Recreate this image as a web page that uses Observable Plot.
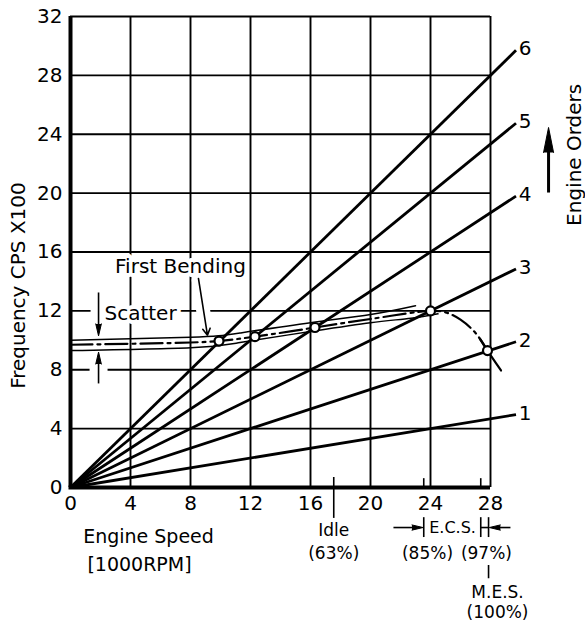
<!DOCTYPE html>
<html><head><meta charset="utf-8">
<script src="https://cdn.jsdelivr.net/npm/d3@7"></script>
<script src="https://cdn.jsdelivr.net/npm/@observablehq/plot@0.6"></script>
<style>body{margin:0;background:#fff;}</style>
</head><body><div id="chart"></div>
<script>
// ---- data ----
const speedTicks = [0, 4, 8, 12, 16, 20, 24, 28];          // 1000 RPM
const freqTicks = [0, 4, 8, 12, 16, 20, 24, 28, 32];       // CPS x100
const gridSpeeds = [4, 8, 12, 16, 20, 24, 28];
const gridFreqs = [4, 8, 12, 16, 20, 24, 28, 32];
const engineOrders = [1, 2, 3, 4, 5, 6];
const orderLineEndSpeed = 29.7;

const bandUpperSpeed = [0, 8, 11.3, 16, 20, 23];
const bandUpperFreq  = [10.0, 10.2, 10.5, 11.2, 11.75, 12.35];
const bandLowerSpeed = [0, 8, 11.3, 16, 20, 22.7, 24.5];
const bandLowerFreq  = [9.3, 9.5, 9.85, 10.6, 11.2, 11.5, 11.8];
const bendingSpeed = [0, 8, 9.9, 12.3, 16.3, 20, 24, 25, 26, 27, 27.8];
const bendingFreq  = [9.7, 9.85, 9.95, 10.25, 10.87, 11.45, 12.0, 11.9, 11.4, 10.5, 9.3];
const tailSpeed = [27.3, 27.8, 28.7];
const tailFreq  = [10.1, 9.3, 7.95];
const crossSpeed = [9.9, 12.3, 16.3, 24.0, 27.8];
const crossFreq  = [9.95, 10.25, 10.87, 12.0, 9.3];

const idleSpeed = 17.55, ecsLowSpeed = 23.55, ecsHighSpeed = 27.35, mesSpeed = 27.87;
const bottomLabels = ["Idle", "(63%)", "E.C.S.", "(85%)", "(97%)", "M.E.S.", "(100%)"];

// ---- build tables ----
const pts = (s, f) => s.map((x, i) => ({speed: x, freq: f[i]}));
const bandUpper = pts(bandUpperSpeed, bandUpperFreq);
const bandLower = pts(bandLowerSpeed, bandLowerFreq);
const bending = pts(bendingSpeed, bendingFreq);
const tail = pts(tailSpeed, tailFreq);
const crossings = pts(crossSpeed, crossFreq);
const orderFreq = o => o * orderLineEndSpeed / 6;
const one = [0];
const F = "DejaVu Sans";

const spike = (x, y, rot, len, r) => Plot.vector(one, {x: () => x, y: () => y, rotate: rot, length: len, r, anchor: "end", shape: "spike", fill: "black", fillOpacity: 1, stroke: "black", strokeWidth: 1});

const chart = Plot.plot({
  width: 585, height: 625,
  marginLeft: 70, marginRight: 95, marginTop: 16, marginBottom: 138,
  x: {domain: [0, 28]},
  y: {domain: [0, 32]},
  style: {fontFamily: F, fontSize: "20px", color: "black", background: "white"},
  marks: [
    Plot.ruleX(gridSpeeds, {y1: 0, y2: 32, stroke: "black", strokeWidth: 1.9}),
    Plot.ruleY(gridFreqs, {x1: 0, x2: 28, stroke: "black", strokeWidth: 1.9}),
    // white halos
    Plot.link(one, {x1: 1.87, x2: 1.87, y1: 13.3, y2: 10.5, stroke: "white", strokeWidth: 16}),
    Plot.link(one, {x1: 1.87, x2: 1.87, y1: 7.0, y2: 9.0, stroke: "white", strokeWidth: 18}),
    Plot.link(one, {x1: 8.53, x2: 9.05, y1: 14.2, y2: 10.6, stroke: "white", strokeWidth: 14}),
    Plot.axisX({ticks: speedTicks, tickSize: 0, tickPadding: 8, fontSize: 20, label: null}),
    Plot.axisY({ticks: freqTicks, tickSize: 0, tickPadding: 8, fontSize: 20, label: null}),
    // engine order lines
    Plot.link(engineOrders, {x1: 0, y1: 0, x2: orderLineEndSpeed, y2: orderFreq, stroke: "black", strokeWidth: 2.8}),
    Plot.text(engineOrders, {x: 30.3, y: d => orderFreq(d) + 0.1, text: d => String(d), fontSize: 20}),
    // scatter band
    Plot.line(bandUpper, {x: "speed", y: "freq", curve: "natural", stroke: "black", strokeWidth: 1.5}),
    Plot.line(bandLower, {x: "speed", y: "freq", curve: "natural", stroke: "black", strokeWidth: 1.5}),
    Plot.line(bending, {x: "speed", y: "freq", curve: "catmull-rom", stroke: "black", strokeWidth: 2.2, strokeDasharray: "22,5,3,5"}),
    Plot.line(tail, {x: "speed", y: "freq", curve: "natural", stroke: "black", strokeWidth: 2.2}),
    Plot.dot(crossings, {x: "speed", y: "freq", r: 4.5, fill: "white", stroke: "black", strokeWidth: 2.2}),
    // frame
    Plot.ruleX([0], {y1: 0, y2: 32, stroke: "black", strokeWidth: 4}),
    Plot.ruleY([0], {x1: -0.1, x2: 28, stroke: "black", strokeWidth: 4}),
    // annotations inside
    Plot.text(["First Bending"], {x: 7.33, y: 15.0, text: d => d, fontSize: 20, stroke: "white", strokeWidth: 8, fill: "black"}),
    Plot.text(["Scatter"], {x: 4.67, y: 11.82, text: d => d, fontSize: 20, stroke: "white", strokeWidth: 8, fill: "black"}),
    Plot.arrow(one, {x1: 8.53, y1: 14.2, x2: 9.13, y2: 10.35, headLength: 7, stroke: "black", strokeWidth: 1.6}),
    Plot.link(one, {x1: 1.87, x2: 1.87, y1: 13.25, y2: 11.0, stroke: "black", strokeWidth: 1.6}),
    spike(1.87, 10.3, 180, 12, 2.8),
    Plot.link(one, {x1: 1.87, x2: 1.87, y1: 7.07, y2: 8.5, stroke: "black", strokeWidth: 1.6}),
    spike(1.87, 9.2, 0, 12, 2.8),
    // Engine Orders
    Plot.text(["Engine Orders"], {x: 33.6, y: 22.6, text: d => d, rotate: -90, fontSize: 20}),
    Plot.link(one, {x1: 31.87, x2: 31.87, y1: 20.04, y2: 23.0, stroke: "black", strokeWidth: 3}),
    spike(31.87, 24.46, 0, 25, 5),
    // Frequency label
    Plot.text(["Frequency CPS X100"], {x: -3.47, y: 13.72, text: d => d, rotate: -90, fontSize: 20}),
    // bottom annotations
    Plot.text(["Engine Speed"], {x: 5.2, y: -3.33, text: d => d, fontSize: 19}),
    Plot.text(["[1000RPM]"], {x: 4.6, y: -5.23, text: d => d, fontSize: 19}),
    Plot.ruleX([idleSpeed], {y1: 0.68, y2: -2.1, stroke: "black", strokeWidth: 1.6}),
    Plot.text([bottomLabels[0]], {x: idleSpeed, y: -2.9, text: d => d, fontSize: 17}),
    Plot.text([bottomLabels[1]], {x: idleSpeed, y: -4.5, text: d => d, fontSize: 17}),
    Plot.ruleX([ecsLowSpeed, ecsHighSpeed], {y1: 0, y2: 0.6, stroke: "black", strokeWidth: 1.6}),
    Plot.ruleX([ecsLowSpeed, ecsHighSpeed, mesSpeed], {y1: -2.05, y2: -3.4, stroke: "black", strokeWidth: 1.6}),
    Plot.link(one, {x1: ecsHighSpeed, x2: mesSpeed, y1: -2.72, y2: -2.72, stroke: "black", strokeWidth: 1.6}),
    Plot.link(one, {x1: 21.53, x2: 23.0, y1: -2.72, y2: -2.72, stroke: "black", strokeWidth: 1.6}),
    spike(ecsLowSpeed - 0.05, -2.72, 90, 11, 2.6),
    Plot.link(one, {x1: 29.33, x2: 28.4, y1: -2.72, y2: -2.72, stroke: "black", strokeWidth: 1.6}),
    spike(mesSpeed + 0.05, -2.72, -90, 11, 2.6),
    Plot.text([bottomLabels[2]], {x: 25.47, y: -2.72, text: d => d, fontSize: 16}),
    Plot.text([bottomLabels[3]], {x: 23.8, y: -4.48, text: d => d, fontSize: 17}),
    Plot.text([bottomLabels[4]], {x: 27.73, y: -4.48, text: d => d, fontSize: 17}),
    Plot.ruleX([mesSpeed], {y1: -5.3, y2: -6.2, stroke: "black", strokeWidth: 1.6}),
    Plot.text([bottomLabels[5]], {x: 28.47, y: -7.13, text: d => d, fontSize: 17}),
    Plot.text([bottomLabels[6]], {x: 28.47, y: -8.49, text: d => d, fontSize: 17})
  ]
});
document.getElementById("chart").appendChild(chart);
</script>
</body></html>
